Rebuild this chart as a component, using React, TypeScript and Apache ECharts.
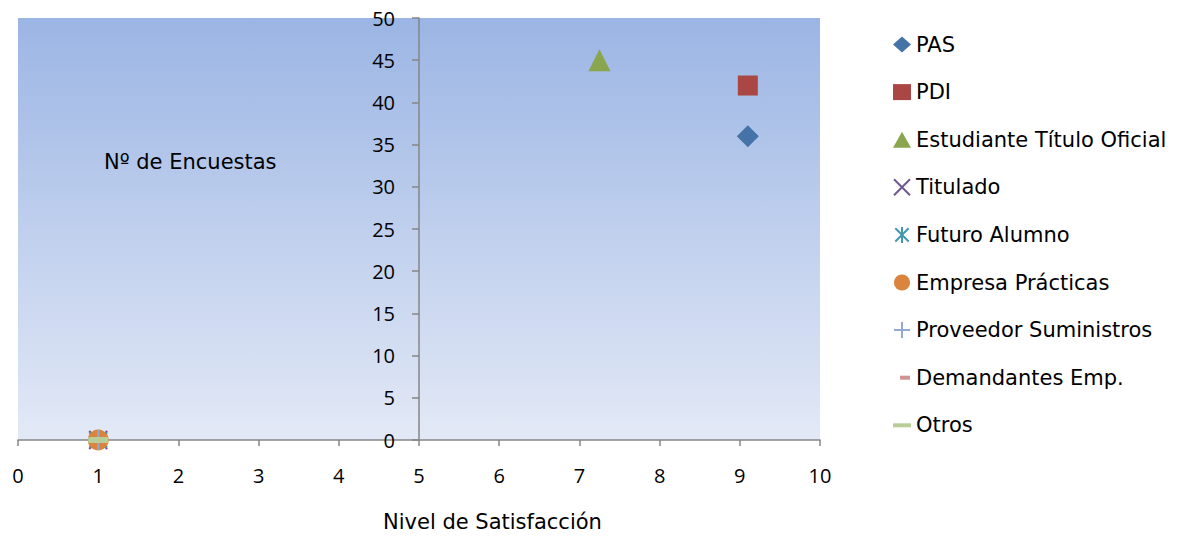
import React, { useEffect, useRef } from "react";
import * as echarts from "echarts";

const seriesNames = [
  "PAS",
  "PDI",
  "Estudiante Título Oficial",
  "Titulado",
  "Futuro Alumno",
  "Empresa Prácticas",
  "Proveedor Suministros",
  "Demandantes Emp.",
  "Otros",
];
const satisfaction = [9.1, 9.1, 7.25, 1, 1, 1, 1, 1, 1];
const surveys = [36, 42, 45, 0, 0, 0, 0, 0, 0];
const colors = ["#4572A7", "#AA4643", "#89A54E", "#71588F", "#4198AF", "#DB843D", "#93A9CF", "#D19392", "#B9CD96"];
const xTicks = { min: 0, max: 10, interval: 1 };
const yTicks = { min: 0, max: 50, interval: 5 };

const FONT = "Open Sans";
const TEXT_FONT = "DejaVu Sans";

export default function App() {
  const ref = useRef<HTMLDivElement>(null);
  useEffect(() => {
    const chart = echarts.init(ref.current!, null, { renderer: "svg" });
    const symbols: any[] = [
      { symbol: "diamond", size: 22 },
      { symbol: "rect", size: 20 },
      { symbol: "triangle", size: 22 },
      { symbol: "path://M0,0 L10,10 M10,0 L0,10", size: 18, stroke: true },
      { symbol: "path://M0,0 L10,10 M10,0 L0,10 M5,-1 L5,11", size: 18, stroke: true },
      { symbol: "circle", size: 21 },
      { symbol: "path://M5,0 L5,10 M0,5 L10,5", size: 20, stroke: true },
      { symbol: "rect", size: [10, 5], legendIcon: "path://M0,0 M18,16 M7,6 L17,6 L17,10 L7,10 Z" },
      { symbol: "rect", size: [20, 6], legendIcon: "path://M0,0 M18,16 M0,6 L18,6 L18,10 L0,10 Z" },
    ];
    const series = seriesNames.map((name, i) => {
      const s = symbols[i];
      return {
        name,
        type: "scatter",
        data: [[satisfaction[i], surveys[i]]],
        symbol: s.symbol,
        symbolSize: s.size,
        itemStyle: s.stroke
          ? { color: "rgba(0,0,0,0)", borderColor: colors[i], borderWidth: 2, opacity: 1 }
          : { color: colors[i], opacity: 1 },
        z: 2 + i,
      };
    });
    const legendData = seriesNames.map((name, i) =>
      symbols[i].legendIcon ? { name, icon: symbols[i].legendIcon } : { name }
    );
    const axisLine = { lineStyle: { color: "#868686", width: 1.5 } };
    chart.setOption({
      animation: false,
      textStyle: { fontFamily: FONT },
      grid: {
        left: 18,
        right: 359,
        top: 18,
        bottom: 96,
        show: true,
        borderWidth: 0,
        backgroundColor: new echarts.graphic.LinearGradient(0, 0, 0, 1, [
          { offset: 0, color: "#9BB5E4" },
          { offset: 1, color: "#E3E9F6" },
        ]),
      },
      legend: {
        orient: "vertical",
        left: 888,
        top: 29,
        itemWidth: 18,
        itemHeight: 16,
        itemGap: 26.6,
        itemStyle: { opacity: 1 },
        textStyle: { fontFamily: TEXT_FONT, fontSize: 21, color: "#000", lineHeight: 20 },
        data: legendData,
      },
      xAxis: {
        type: "value",
        ...xTicks,
        axisLine,
        axisTick: { show: true, length: 6, lineStyle: { color: "#868686", width: 1.5 } },
        splitLine: { show: false },
        axisLabel: { fontFamily: FONT, fontSize: 20, color: "#000", margin: 25 },
      },
      yAxis: {
        type: "value",
        ...yTicks,
        offset: -401,
        axisLine: { show: true, ...axisLine },
        axisTick: { show: true, length: 7, lineStyle: { color: "#868686", width: 1.5 } },
        splitLine: { show: false },
        axisLabel: { fontFamily: FONT, fontSize: 20, color: "#000", margin: 24 },
      },
      graphic: [
        {
          type: "text",
          left: 104,
          top: 151,
          style: { text: "Nº de Encuestas", fontFamily: TEXT_FONT, fontSize: 21, fill: "#000" },
        },
        {
          type: "text",
          left: 383,
          top: 511,
          style: { text: "Nivel de Satisfacción", fontFamily: TEXT_FONT, fontSize: 21, fill: "#000" },
        },
      ],
      series,
    });
    return () => chart.dispose();
  }, []);
  return (
    <div
      ref={ref}
      style={{ position: "fixed", left: 0, top: 0, width: 1179, height: 536, background: "#fff" }}
    />
  );
}
